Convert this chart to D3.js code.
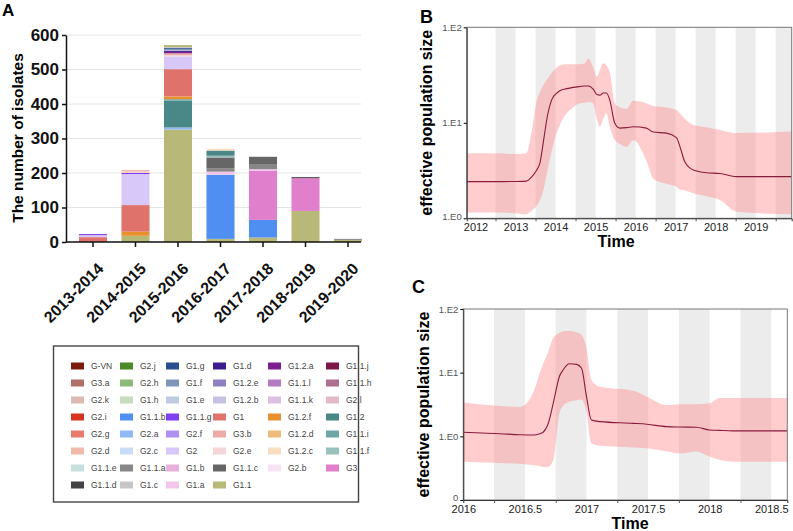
<!DOCTYPE html>
<html>
<head>
<meta charset="utf-8">
<script src="https://cdn.jsdelivr.net/npm/d3@7"></script>
<style>
  body { margin: 0; background: #fff; }
  svg { font-family: "Liberation Sans", Arial, Helvetica, sans-serif; }
</style>
</head>
<body>
<div id="fig"></div>
<script>
// ---------- panel A data ----------
var seasons = ["2013-2014", "2014-2015", "2015-2016", "2016-2017", "2017-2018", "2018-2019", "2019-2020"];

// legend, row by row as printed
var cladeNames = [
  "G-VN", "G2.j", "G1.g", "G1.d", "G1.2.a", "G1.1.j",
  "G3.a", "G2.h", "G1.f", "G1.2.e", "G1.1.l", "G1.1.h",
  "G2.k", "G1.h", "G1.e", "G1.2.b", "G1.1.k", "G2.l",
  "G2.i", "G1.1.b", "G1.1.g", "G1", "G1.2.f", "G1.2",
  "G2.g", "G2.a", "G2.f", "G3.b", "G1.2.d", "G1.1.i",
  "G2.d", "G2.c", "G2", "G2.e", "G1.2.c", "G1.1.f",
  "G1.1.e", "G1.1.a", "G1.b", "G1.1.c", "G2.b", "G3",
  "G1.1.d", "G1.c", "G1.a", "G1.1"
];
var cladeColors = [
  "#7d1c0e", "#4b8a26", "#2b4f8c", "#3e1e8c", "#7e1f91", "#7c1848",
  "#b0706a", "#8fb978", "#7f96bb", "#8f80c2", "#b27bc2", "#b06f8e",
  "#d9b9b1", "#c6dcbd", "#bfcbe0", "#c8c0e2", "#dcc0e2", "#e1b9c9",
  "#d83220", "#4f8ff2", "#7f3ff2", "#e0726c", "#e8902e", "#4a8787",
  "#e87b6b", "#8fb8f4", "#b08ff2", "#ebaaa8", "#eebb78", "#6ea6a6",
  "#f1b9aa", "#c8dcf8", "#d8c8fa", "#f5d5d5", "#f8ddc0", "#98c0bc",
  "#c6e0dc", "#878787", "#e8b0dc", "#666666", "#f5e2f2", "#e080cc",
  "#424242", "#c6c6c6", "#f1c6ea", "#b8b878"
];

// isolates per clade, bottom of the bar to the top
var bar1314 = [["G1", 14], ["G2", 6], ["G1.1.g", 3]];
var bar1415 = [["G1.1", 18], ["G1.2.f", 12], ["G1", 77], ["G2", 90], ["G1.1.g", 3], ["G2.e", 4], ["G2.d", 5]];
var bar1516 = [["G1.1", 326], ["G2.a", 6], ["G1.2", 78], ["G1.1.i", 4], ["G1.2.f", 8], ["G1", 79], ["G2", 37],
               ["G2.e", 4], ["G3.b", 5], ["G1.2.a", 4], ["G1.d", 4], ["G1.e", 3], ["G1.g", 4], ["G1.c", 3], ["G1.1", 6]];
var bar1617 = [["G1.1", 9], ["G1.1.b", 186], ["G1.a", 9], ["G1.1.a", 10], ["G1.1.c", 31], ["G1.1.f", 5], ["G1.2", 15], ["G1.2.c", 5]];
var bar1718 = [["G1.1", 13], ["G1.1.b", 51], ["G3", 143], ["G1.a", 4], ["G1.1.a", 15], ["G1.1.c", 21]];
var bar1819 = [["G1.1", 90], ["G3", 95], ["G1.1.d", 3]];
var bar1920 = [["G1.1", 6], ["G1.1.a", 3]];
var seasonBars = [bar1314, bar1415, bar1516, bar1617, bar1718, bar1819, bar1920];

var countTicks = [0, 100, 200, 300, 400, 500, 600];

// ---------- panel B data (skyline, 2012-2019) ----------
var timeB = [2011.78, 2012.5, 2013.0, 2013.27, 2013.4, 2013.53, 2013.61, 2013.7, 2013.8, 2013.9, 2014.03, 2014.11,
             2014.28, 2014.44, 2014.61, 2014.73, 2014.82, 2014.94, 2015.03, 2015.11, 2015.19, 2015.27, 2015.36,
             2015.48, 2015.61, 2015.78, 2015.94, 2016.27, 2016.44, 2016.77, 2017.02, 2017.11, 2017.23, 2017.44,
             2017.77, 2018.11, 2018.52, 2019.9];
var medianB = [2.42, 2.42, 2.43, 2.45, 2.7, 3.2, 3.8, 6.5, 12, 17.3, 20.5, 21.7,
               22.8, 23.5, 24, 24.3, 24.3, 22.5, 19.8, 19.5, 20.5, 20.5, 17,
               9.9, 8.8, 8.9, 9.1, 8.8, 8, 7.8, 7.0, 5.6, 3.9, 3.2,
               3.0, 2.95, 2.73, 2.73];
var lowerB = [1.15, 1.15, 1.13, 1.1, 1.2, 1.35, 1.55, 2.0, 3.2, 5, 7.8, 9.5,
              12.6, 14.5, 16, 16.2, 16.5, 16, 11, 9.1, 11, 12.6, 9,
              6.6, 6, 5.6, 6.6, 4, 2.6, 2.3, 2.14, 2.0, 1.95, 1.83,
              1.7, 1.55, 1.17, 1.1];
var upperB = [4.8, 4.8, 4.7, 4.8, 8, 17, 21, 25, 29, 33, 38, 40,
              41, 41, 41, 42, 47, 38, 30.4, 36, 42, 40, 33,
              16, 14.5, 14, 17, 16, 15, 14.5, 13.6, 12.5, 11, 9.5,
              9, 8.4, 7.8, 8.1];

// ---------- panel C data (skyline, 2016-2018.6) ----------
var timeC = [2016.0, 2016.3, 2016.46, 2016.57, 2016.62, 2016.65, 2016.69, 2016.73, 2016.78, 2016.81, 2016.86,
             2016.92, 2016.96, 2017.0, 2017.04, 2017.11, 2017.38, 2017.49, 2017.65, 2017.76, 2017.89, 2018.0,
             2018.08, 2018.19, 2018.63];
var medianC = [1.16, 1.1, 1.06, 1.05, 1.1, 1.17, 1.6, 3.3, 8.7, 11, 13.8,
               13.5, 11.7, 4.2, 1.8, 1.7, 1.6, 1.55, 1.42, 1.4, 1.39, 1.26,
               1.24, 1.22, 1.22];
var lowerC = [0.4, 0.38, 0.37, 0.35, 0.34, 0.33, 0.33, 0.42, 2.3, 3.0, 3.5,
              3.7, 3.8, 2.4, 0.78, 0.71, 0.67, 0.65, 0.58, 0.54, 0.58, 0.48,
              0.43, 0.4, 0.4];
var upperC = [3.4, 3.0, 2.9, 5, 9.8, 14, 21.5, 35, 42, 44.5, 45,
              43, 39, 24, 7.7, 6.0, 5.2, 4.2, 3.1, 3.2, 3.2, 3.3,
              4.0, 4.0, 4.0];

var width = 793, height = 531;

var svg = d3.select("#fig").append("svg")
  .attr("width", width)
  .attr("height", height);

// ================= panel A =================
var colorOf = d3.scaleOrdinal().domain(cladeNames).range(cladeColors);

var xA = d3.scaleBand()
  .domain(seasons)
  .range([71.75, 369.25])
  .paddingInner(0.34)
  .paddingOuter(0.17);

var yA = d3.scaleLinear()
  .domain([0, 600])
  .range([242, 35]);

var gA = svg.append("g");

// gridlines
gA.selectAll(".grid")
  .data(countTicks.slice(1))
  .enter()
  .append("line")
  .attr("x1", 66).attr("x2", 361)
  .attr("y1", d => yA(d)).attr("y2", d => yA(d))
  .attr("stroke", "#e4e4e4")
  .attr("stroke-width", 1);

// stacked bars
seasons.forEach(function(s, i) {
  var base = 0;
  var segs = seasonBars[i].map(function(p) {
    var seg = {clade: p[0], y0: base, y1: base + p[1]};
    base += p[1];
    return seg;
  });
  gA.selectAll(".seg" + i)
    .data(segs)
    .enter()
    .append("rect")
    .attr("x", xA(s))
    .attr("width", xA.bandwidth())
    .attr("y", d => yA(d.y1))
    .attr("height", d => yA(d.y0) - yA(d.y1))
    .attr("fill", d => colorOf(d.clade));
});

// y axis
var yAxisA = gA.append("g")
  .attr("transform", "translate(66,0)")
  .call(d3.axisLeft(yA).tickValues(countTicks).tickSize(4).tickPadding(3).tickSizeOuter(0));
yAxisA.select(".domain").attr("stroke", "#111").attr("stroke-width", 1.5);
yAxisA.selectAll(".tick line").attr("stroke", "#111").attr("stroke-width", 1.5);
yAxisA.selectAll("text")
  .attr("font-size", 17)
  .attr("font-weight", "bold")
  .attr("fill", "#111");

// x axis
var xAxisA = gA.append("g")
  .attr("transform", "translate(0,242)")
  .call(d3.axisBottom(xA).tickSize(5).tickSizeOuter(0));
xAxisA.select(".domain").attr("d", "M66,0H361").attr("stroke", "#111").attr("stroke-width", 1.5);
xAxisA.selectAll(".tick line").attr("stroke", "#111").attr("stroke-width", 1.5);
xAxisA.selectAll("text")
  .attr("font-size", 16)
  .attr("font-weight", "bold")
  .attr("fill", "#111")
  .attr("text-anchor", "end")
  .attr("dy", "0.35em")
  .attr("transform", "translate(2,18) rotate(-45)");

gA.append("text")
  .attr("transform", "translate(23,138) rotate(-90)")
  .attr("text-anchor", "middle")
  .attr("font-size", 15.5)
  .attr("font-weight", "bold")
  .text("The number of isolates");

svg.append("text")
  .attr("x", 2).attr("y", 16)
  .attr("font-size", 17)
  .attr("font-weight", "bold")
  .text("A");

// legend box
var legend = svg.append("g");
legend.append("rect")
  .attr("x", 53.5).attr("y", 346)
  .attr("width", 305).attr("height", 156)
  .attr("fill", "#fff")
  .attr("stroke", "#444")
  .attr("stroke-width", 1.4);

var colSwatch = [71, 120, 166, 213, 268, 326];
var colText = [91, 140, 186, 233, 288, 346];

var items = legend.selectAll(".item")
  .data(cladeNames)
  .enter()
  .append("g")
  .attr("transform", (d, i) => `translate(0, ${366 + Math.floor(i / 6) * 17})`);

items.append("rect")
  .attr("x", (d, i) => colSwatch[i % 6])
  .attr("y", -3.5)
  .attr("width", 13)
  .attr("height", 7)
  .attr("fill", d => colorOf(d));

items.append("text")
  .attr("x", (d, i) => colText[i % 6])
  .attr("y", 0)
  .attr("dy", "0.35em")
  .attr("font-size", 8.5)
  .attr("fill", "#444")
  .text(d => d);

// ================= skyline panels =================
function skyline(opts) {
  var g = svg.append("g");
  var x = d3.scaleLinear().domain(opts.xDomain).range([opts.left, opts.right]);
  var y = d3.scaleLog().domain(opts.yDomain).range([opts.bottom, opts.top]);

  var clipId = "clip" + opts.letter;
  g.append("clipPath").attr("id", clipId)
    .append("rect")
    .attr("x", opts.left).attr("y", opts.top)
    .attr("width", opts.right - opts.left).attr("height", opts.bottom - opts.top);

  var body = g.append("g").attr("clip-path", `url(#${clipId})`);

  // alternating grey stripes
  body.selectAll(".stripe")
    .data(opts.stripes)
    .enter()
    .append("rect")
    .attr("x", d => x(d))
    .attr("width", d => x(d + opts.stripeWidth) - x(d))
    .attr("y", opts.top)
    .attr("height", opts.bottom - opts.top)
    .attr("fill", "#ececec");

  var rows = opts.time.map((t, i) => ({t: t, m: opts.median[i], lo: opts.lower[i], hi: opts.upper[i]}));

  var area = d3.area()
    .x(d => x(d.t))
    .y0(d => y(d.lo))
    .y1(d => y(d.hi))
    .curve(d3.curveMonotoneX);

  body.append("path")
    .datum(rows)
    .attr("d", area)
    .attr("fill", "rgb(255,135,135)")
    .attr("fill-opacity", 0.42);

  var line = d3.line()
    .x(d => x(d.t))
    .y(d => y(d.m))
    .curve(d3.curveMonotoneX);

  body.append("path")
    .datum(rows)
    .attr("d", line)
    .attr("fill", "none")
    .attr("stroke", "#8a1a3c")
    .attr("stroke-width", 1.1);

  // frame
  g.append("rect")
    .attr("x", opts.left).attr("y", opts.top)
    .attr("width", opts.right - opts.left).attr("height", opts.bottom - opts.top)
    .attr("fill", "none")
    .attr("stroke", "#777")
    .attr("stroke-width", 1);

  // y axis
  var yAxis = g.append("g")
    .attr("transform", `translate(${opts.left},0)`)
    .call(d3.axisLeft(y).tickValues(opts.yTicks).tickFormat(opts.yFormat).tickSize(3).tickPadding(2).tickSizeOuter(0));
  yAxis.select(".domain").attr("stroke", "#333");
  yAxis.selectAll("text").attr("font-size", 9.5).attr("fill", "#555");
  // lowest label sits a little above the corner so it clears the first year label
  yAxis.selectAll(".tick text").filter(d => d === opts.yDomain[0]).attr("dy", "0.1em");

  // x axis: minor ticks, then labelled ticks
  var xMinor = g.append("g")
    .attr("transform", `translate(0,${opts.bottom})`)
    .call(d3.axisBottom(x).tickValues(opts.minorTicks).tickSize(3).tickFormat(""));
  xMinor.select(".domain").attr("stroke", "#333");
  xMinor.selectAll(".tick line").attr("stroke", "#555");

  var xAxis = g.append("g")
    .attr("transform", `translate(0,${opts.bottom})`)
    .call(d3.axisBottom(x).tickValues(opts.xTicks).tickSize(0).tickPadding(opts.xPad).tickFormat(d3.format("")));
  xAxis.select(".domain").remove();
  xAxis.selectAll("text").attr("font-size", 11).attr("fill", "#222");

  g.append("text")
    .attr("transform", `translate(${opts.yTitleX},${(opts.top + opts.bottom) / 2}) rotate(-90)`)
    .attr("text-anchor", "middle")
    .attr("font-size", 16)
    .attr("font-weight", "bold")
    .text("effective population size");

  g.append("text")
    .attr("x", opts.timeX).attr("y", opts.timeY)
    .attr("text-anchor", "middle")
    .attr("font-size", 16)
    .attr("font-weight", "bold")
    .text("Time");

  svg.append("text")
    .attr("x", opts.letterX).attr("y", opts.letterY)
    .attr("font-size", 18)
    .attr("font-weight", "bold")
    .text(opts.letter);
}

var decadeFmt = d => ({0.1: "0", 1: "1.E0", 10: "1.E1", 100: "1.E2"})[d];

skyline({
  letter: "B", letterX: 420, letterY: 23,
  left: 466.7, right: 791.7, top: 27.3, bottom: 218.3,
  xDomain: [2011.78, 2019.9], yDomain: [1, 100],
  stripes: d3.range(2012.5, 2020, 1), stripeWidth: 0.5,
  xTicks: d3.range(2012, 2020, 1),
  minorTicks: d3.range(2012.5, 2020, 1),
  xPad: 5,
  yTicks: [1, 10, 100], yFormat: decadeFmt,
  time: timeB, median: medianB, lower: lowerB, upper: upperB,
  yTitleX: 432, timeX: 616, timeY: 247
});

skyline({
  letter: "C", letterX: 412, letterY: 293,
  left: 463.3, right: 787.3, top: 309, bottom: 500,
  xDomain: [2016, 2018.63], yDomain: [0.1, 100],
  stripes: d3.range(2016.25, 2018.6, 0.5), stripeWidth: 0.25,
  xTicks: d3.range(2016, 2018.6, 0.5),
  minorTicks: d3.range(2016.25, 2018.6, 0.5),
  xPad: 5,
  yTicks: [0.1, 1, 10, 100], yFormat: decadeFmt,
  time: timeC, median: medianC, lower: lowerC, upper: upperC,
  yTitleX: 429, timeX: 630, timeY: 529
});
</script>
</body>
</html>
